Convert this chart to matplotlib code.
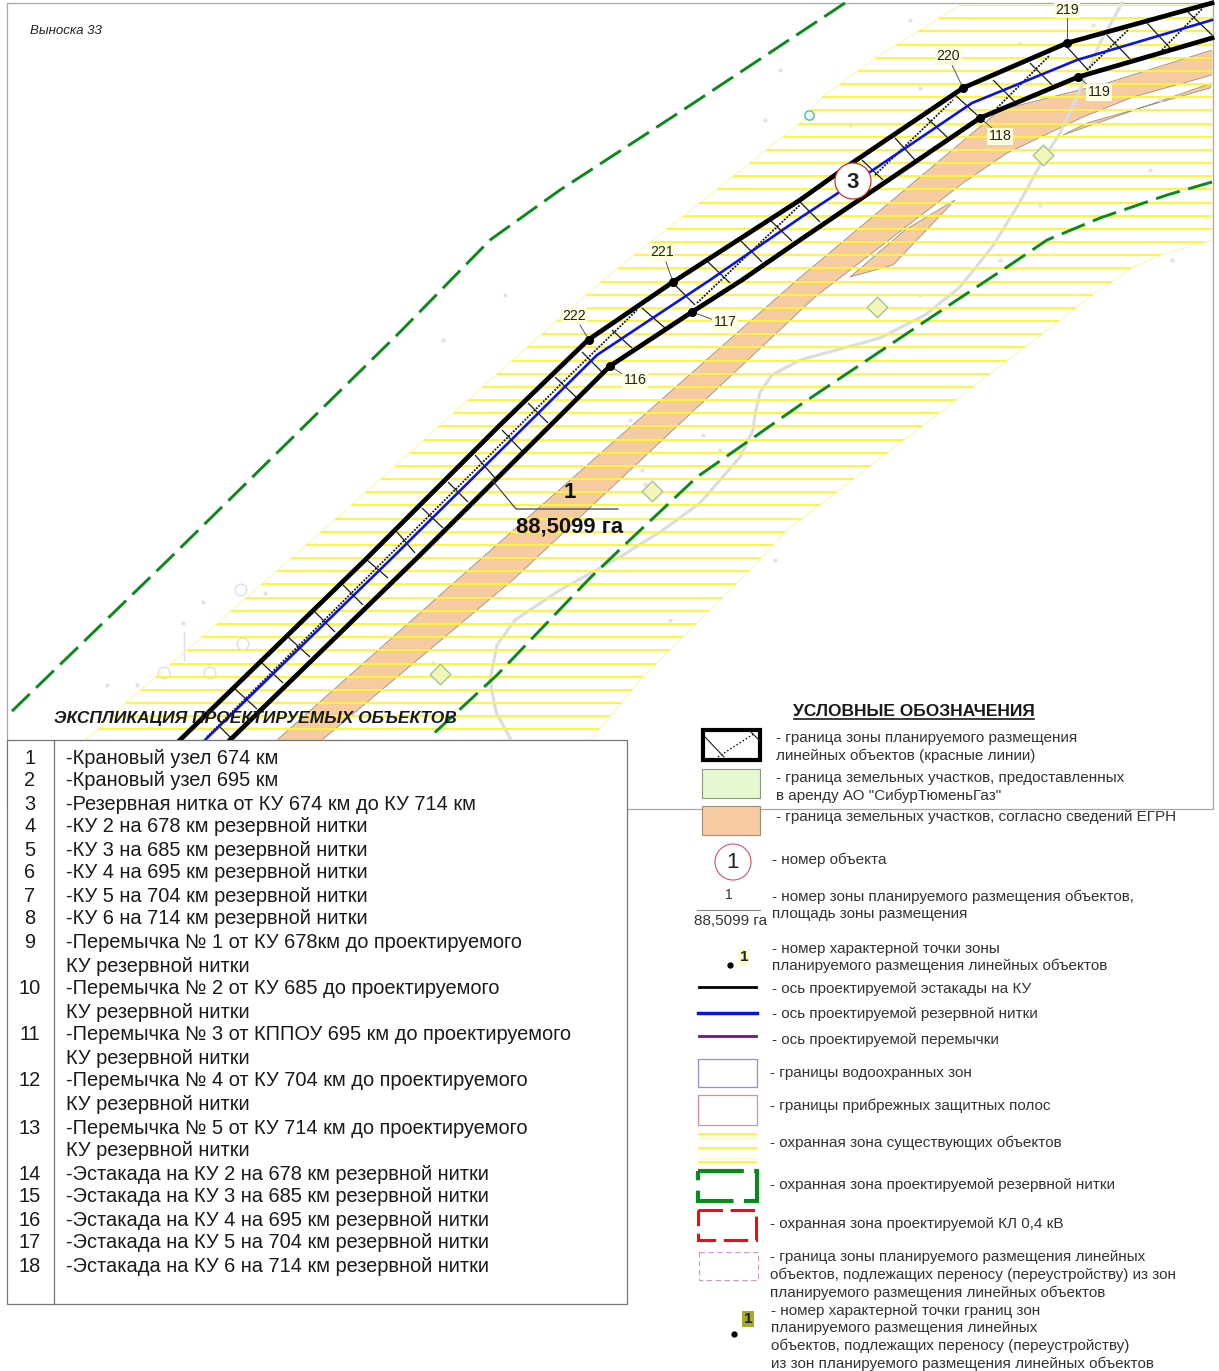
'''
Карта: зона планируемого размещения линейных объектов, выноска 33
Координаты считаны с рисунка, в пикселях
'''
import numpy as np
import matplotlib
matplotlib.use('Agg')
import matplotlib.pyplot as plt
from matplotlib.patches import Polygon, Rectangle, Circle
from matplotlib.collections import LineCollection

plt.rcParams['font.family'] = ['Liberation Sans', 'DejaVu Sans']

# --- карта ---
upper_border = [(180, 740), (365, 560), (400, 525), (500, 425), (588, 340), (673, 282), (800, 200),
                (852, 163), (963, 88), (1067, 43), (1212, 3)]
lower_border = [(230, 740), (415, 560), (610, 366), (692, 312), (742, 280), (800, 240), (980, 118),
                (1078, 77), (1212, 38)]
blue_axis = [(205, 740), (390, 560), (597, 355), (710, 280), (800, 218), (873, 170), (972, 103),
             (1077, 60), (1212, 20)]
dotted_parts = [[(207, 737), (480, 465), (560, 385), (637, 310)],
                [(697, 303), (800, 205)],
                [(875, 175), (953, 100)],
                [(997, 108), (1050, 55)],
                [(1087, 70), (1128, 30)],
                [(1162, 50), (1203, 8)]]
cross_ticks = [[(220, 727), (231, 738)], [(235, 689), (257, 709)], [(262, 663), (283, 683)],
               [(288, 637), (310, 657)], [(315, 612), (335, 632)], [(343, 585), (363, 605)],
               [(367, 560), (388, 578)], [(397, 532), (415, 553)], [(422, 508), (443, 528)],
               [(448, 482), (468, 502)], [(475, 455), (495, 478)], [(502, 430), (522, 451)],
               [(528, 403), (548, 423)], [(555, 377), (576, 397)], [(582, 352), (602, 372)],
               [(612, 330), (632, 348)], [(642, 308), (665, 328)], [(673, 283), (695, 305)],
               [(708, 262), (730, 283)], [(740, 240), (762, 262)], [(770, 220), (792, 241)],
               [(800, 202), (820, 222)], [(862, 160), (883, 180)], [(895, 138), (915, 160)],
               [(927, 118), (947, 137)], [(955, 95), (977, 115)], [(993, 80), (1015, 102)],
               [(1030, 63), (1052, 85)], [(1067, 47), (1088, 70)], [(1107, 35), (1130, 59)],
               [(1147, 23), (1170, 48)], [(1188, 12), (1212, 35)]]
hatch_zone = [(85, 740), (100, 728), (128, 701), (143, 688), (203, 636), (233, 609), (278, 570), (412, 451),
              (440, 425), (543, 333), (603, 280), (800, 123), (823, 96), (877, 57), (960, 5), (1212, 5),
              (1212, 240), (1163, 254), (1133, 267), (1115, 280), (1095, 293), (787, 530), (750, 570),
              (640, 680), (590, 740)]
orange_band = [(277, 740), (457, 580), (797, 280), (1000, 110), (1107, 83), (1212, 50), (1212, 75),
               (1133, 97), (1083, 117), (1007, 153), (963, 183), (815, 297), (515, 578), (322, 740)]
orange_sliver_1 = [(850, 277), (893, 265), (955, 200), (905, 230)]
orange_sliver_2 = [(1063, 135), (1212, 83), (1210, 88), (1133, 110), (1087, 123)]
green_upper = [(845, 3), (680, 112), (560, 190), (490, 240), (400, 332), (168, 560), (8, 715)]
green_lower = [(1212, 182), (1167, 195), (1100, 218), (1047, 240), (1013, 263), (957, 300), (800, 405),
               (750, 440), (697, 477), (633, 537), (590, 578), (497, 675), (430, 737)]
road = [(1122, 3), (1100, 43), (1077, 97), (1060, 133), (1043, 160), (1017, 207), (992, 247), (960, 287),
        (925, 315), (880, 338), (800, 360), (772, 375), (760, 392), (755, 415), (753, 430), (740, 457),
        (700, 503), (663, 530), (620, 557), (560, 590), (515, 620), (497, 645), (490, 680), (496, 712),
        (510, 738)]
diamonds = [(877, 307), (652, 491), (440, 674), (1043, 155)]
pale_rings = [(241, 590), (243, 644), (210, 673), (164, 673)]
pale_dots = [(265, 593), (203, 602), (183, 623), (137, 685), (107, 685), (433, 663), (645, 484), (910, 20),
             (1093, 25), (1020, 44), (920, 88), (1160, 100), (955, 150), (1150, 170), (1040, 205),
             (1000, 260), (1172, 260), (920, 295), (765, 120), (780, 70), (850, 125), (642, 470), (703, 435),
             (560, 380), (505, 295), (443, 340), (630, 420), (720, 450), (670, 620), (775, 560)]
point_no = ['222', '221', '220', '219', '116', '117', '118', '119']
point_xy = [(574, 315), (662, 252), (948, 56), (1067, 9), (635, 380), (725, 322), (1000, 136), (1099, 92)]
point_at = [(589, 340), (673, 282), (963, 88), (1067, 43), (610, 366), (692, 312), (980, 118), (1078, 77)]
leader_to = [(580, 325), (666, 262), (952, 65), (1067, 15), (624, 375), (714, 320), (992, 128), (1088, 85)]

# --- экспликация ---
expl_no = ['1', '2', '3', '4', '5', '6', '7', '8', '9', '', '10', '', '11', '', '12', '', '13', '',
           '14', '15', '16', '17', '18']
expl_text = ['-Крановый узел 674 км', '-Крановый узел 695 км', '-Резервная нитка от КУ 674 км до КУ 714 км',
             '-КУ 2 на 678 км резервной нитки', '-КУ 3 на 685 км резервной нитки',
             '-КУ 4 на 695 км резервной нитки', '-КУ 5 на 704 км резервной нитки',
             '-КУ 6 на 714 км резервной нитки', '-Перемычка № 1 от КУ 678км до проектируемого',
             'КУ резервной нитки', '-Перемычка № 2 от КУ 685 до проектируемого', 'КУ резервной нитки',
             '-Перемычка № 3 от КППОУ 695 км до проектируемого', 'КУ резервной нитки',
             '-Перемычка № 4 от КУ 704 км до проектируемого', 'КУ резервной нитки',
             '-Перемычка № 5 от КУ 714 км до проектируемого', 'КУ резервной нитки',
             '-Эстакада на КУ 2 на 678 км резервной нитки', '-Эстакада на КУ 3 на 685 км резервной нитки',
             '-Эстакада на КУ 4 на 695 км резервной нитки', '-Эстакада на КУ 5 на 704 км резервной нитки',
             '-Эстакада на КУ 6 на 714 км резервной нитки']
expl_y = [757, 780, 803, 826, 849, 872, 895, 918, 942, 965, 988, 1011, 1034, 1057, 1080, 1103, 1127, 1150,
          1173, 1196, 1219, 1242, 1265]

# --- условные обозначения ---
legend_lines = [(776, 737, '- граница зоны планируемого размещения'),
                (776, 755, 'линейных объектов (красные линии)'),
                (776, 777, '- граница земельных участков, предоставленных'),
                (776, 795, 'в аренду АО "СибурТюменьГаз"'),
                (776, 816, '- граница земельных участков, согласно сведений ЕГРН'),
                (772, 859, '- номер объекта'),
                (772, 896, '- номер зоны планируемого размещения объектов,'),
                (772, 913, 'площадь зоны размещения'),
                (772, 948, '- номер характерной точки зоны'),
                (772, 965, 'планируемого размещения линейных объектов'),
                (772, 988, '- ось проектируемой эстакады на КУ'),
                (772, 1013, '- ось проектируемой резервной нитки'),
                (772, 1039, '- ось проектируемой перемычки'),
                (770, 1072, '- границы водоохранных зон'),
                (770, 1105, '- границы прибрежных защитных полос'),
                (770, 1142, '- охранная зона существующих объектов'),
                (770, 1184, '- охранная зона проектируемой резервной нитки'),
                (770, 1223, '- охранная зона проектируемой КЛ 0,4 кВ'),
                (770, 1256, '- граница зоны планируемого размещения линейных'),
                (770, 1274, 'объектов, подлежащих переносу (переустройству) из зон'),
                (770, 1292, 'планируемого размещения линейных объектов'),
                (771, 1310, '- номер характерной точки границ зон'),
                (771, 1327, 'планируемого размещения линейных'),
                (771, 1345, 'объектов, подлежащих переносу (переустройству)'),
                (771, 1363, 'из зон планируемого размещения линейных объектов')]

fig = plt.figure(figsize=(12.19, 13.71), dpi=100)
ax = fig.add_axes([0, 0, 1, 1])
ax.set_xlim(0, 1219)
ax.set_ylim(1371, 0)
ax.axis('off')


def polyline(points, **kw):
    pts = np.array(points)
    return ax.plot(pts[:, 0], pts[:, 1], **kw)


# рамка карты
ax.add_patch(Rectangle((7, 3), 1206, 806, fc='white', ec='#a8a8a8', lw=0.9, zorder=1))

# охранная зона (штриховка)
zone = Polygon(hatch_zone, closed=True, fc='none', ec='#f8f8b0', lw=0.7, zorder=3)
ax.add_patch(zone)
for poly in (orange_band, orange_sliver_1, orange_sliver_2):
    ax.add_patch(Polygon(poly, closed=True, fc='#f6cba2', ec='#9c8f80', lw=0.6, zorder=2))
hatch_y = np.arange(5.0, 740, 13.17)
hl = ax.hlines(hatch_y, 7, 1213, color='#fdf53a', lw=1.4, zorder=3)
hl.set_clip_path(zone)

# подложка: дорога, кольца, точки
polyline(road, color='#dcdcdc', lw=2.2, zorder=2.5, solid_joinstyle='round')
ax.scatter(*zip(*pale_dots), s=9, color='#e2e2e2', zorder=2.5, linewidths=0)
ax.scatter(*zip(*pale_rings), s=70, facecolors='none', edgecolors='#dcdcdc', lw=0.9, zorder=2.5)
ax.plot([184, 184], [632, 660], color='#dddddd', lw=1, zorder=2.5)
ax.scatter(*zip(*diamonds), s=110, marker='D', facecolors='#f2f6b8', edgecolors='#9cc08a', lw=0.9, zorder=3.5)
ax.scatter([809], [115], s=45, facecolors='#eef8f0', edgecolors='#58b8a0', lw=1, zorder=3.5)

# охранная зона резервной нитки
for line in (green_upper, green_lower):
    polyline(line, color='#0b8a1c', lw=2.1, ls=(0, (8.5, 3)), zorder=4)

# коридор
ax.add_collection(LineCollection(cross_ticks, colors='#1a1a1a', linewidths=0.9, zorder=4))
for part in dotted_parts:
    polyline(part, color='#111111', lw=1.3, ls=(0, (1, 0.8)), zorder=4.2)
polyline(blue_axis, color='#0a14e0', lw=1.9, zorder=4.5)
polyline(upper_border, color='black', lw=3.4, zorder=5, solid_joinstyle='round')
polyline(lower_border, color='black', lw=3.4, zorder=5, solid_joinstyle='round')

# характерные точки
for no, xy, at, lead in zip(point_no, point_xy, point_at, leader_to):
    ax.plot([at[0], lead[0]], [at[1], lead[1]], color='#555555', lw=0.7, zorder=5)
    ax.plot(at[0], at[1], 'o', color='black', ms=5.5, zorder=6)
    ax.text(xy[0], xy[1] + 0.5, no, ha='center', va='center', fontsize=10.2, color='#222222', zorder=6,
            bbox=dict(fc='#fdfde0', ec='none', pad=0.8))

# номер объекта
ax.add_patch(Circle((853, 181), 18, fc='white', ec='#d03030', lw=0.9, zorder=7))
ax.text(853, 182, '3', ha='center', va='center', fontsize=16, fontweight='bold', color='#222222', zorder=8)

# выноска зоны
ax.plot([492, 516, 618], [480, 509, 509], color='#444444', lw=0.9, zorder=6)
ax.text(570, 492, '1', ha='center', va='center', fontsize=16, fontweight='bold', color='#111111', zorder=6)
ax.text(570, 527, '88,5099 га', ha='center', va='center', fontsize=15.8, fontweight='bold', color='#111111',
        zorder=6)

ax.text(30, 31, 'Выноска 33', ha='left', va='center', fontsize=9.5, style='italic', color='#222222', zorder=6)

# таблица экспликации
ax.add_patch(Rectangle((7, 740), 620, 564, fc='white', ec='#777777', lw=0.9, zorder=9))
ax.plot([54, 54], [740, 1304], color='#777777', lw=0.9, zorder=10)
ax.text(54, 719, 'ЭКСПЛИКАЦИЯ ПРОЕКТИРУЕМЫХ ОБЪЕКТОВ', ha='left', va='center', fontsize=12.5,
        fontweight='bold', style='italic', color='#1a1a1a', zorder=10)
for no, txt, y in zip(expl_no, expl_text, expl_y):
    ax.text(30, y + 1, no, ha='center', va='center', fontsize=14.4, color='#1a1a1a', zorder=10)
    ax.text(66, y + 1, txt, ha='left', va='center', fontsize=14.4, color='#1a1a1a', zorder=10)

# условные обозначения
ax.text(914, 711, 'УСЛОВНЫЕ ОБОЗНАЧЕНИЯ', ha='center', va='center', fontsize=12.5, fontweight='bold',
        color='#1a1a1a', zorder=10)
ax.plot([794, 1034], [719, 719], color='#1a1a1a', lw=1.2, zorder=10)
for x, y, txt in legend_lines:
    ax.text(x, y + 1, txt, ha='left', va='center', fontsize=11, color='#333333', zorder=10)

ax.add_patch(Rectangle((703, 730), 57, 30, fc='white', ec='black', lw=3, zorder=10))
ax.plot([718, 755], [757, 733], color='black', lw=1, ls=':', zorder=10)
ax.plot([705, 724], [737, 757], color='#222222', lw=0.8, zorder=10)
ax.plot([750, 760], [731, 741], color='#222222', lw=0.8, zorder=10)
ax.add_patch(Rectangle((702, 769), 58, 29, fc='#e6f8d2', ec='#8a9a80', lw=0.8, zorder=10))
ax.add_patch(Rectangle((702, 806), 58, 29, fc='#f6cba2', ec='#a09080', lw=0.8, zorder=10))
ax.add_patch(Circle((733, 862), 18, fc='white', ec='#d85060', lw=0.8, zorder=10))
ax.text(733, 863, '1', ha='center', va='center', fontsize=16, color='#222222', zorder=11)
ax.text(729, 895, '1', ha='center', va='center', fontsize=10, color='#333333', zorder=10)
ax.plot([697, 760], [910, 910], color='#888888', lw=0.8, zorder=10)
ax.text(731, 921, '88,5099 га', ha='center', va='center', fontsize=11, color='#333333', zorder=10)
ax.plot(730, 965, 'o', color='black', ms=3.5, zorder=10)
ax.text(744, 957, '1', ha='center', va='center', fontsize=11, fontweight='bold', color='#222222', zorder=10,
        bbox=dict(fc='#fdfdd0', ec='none', pad=1))
ax.plot([699, 756], [987, 987], color='black', lw=2, zorder=10)
ax.plot([698, 757], [1013, 1013], color='#0a14d8', lw=2.5, zorder=10)
ax.plot([699, 756], [1036, 1036], color='#7a1088', lw=2, zorder=10)
ax.add_patch(Rectangle((698, 1059), 59, 28, fc='white', ec='#8f8fe8', lw=0.9, zorder=10))
ax.add_patch(Rectangle((698, 1095), 59, 30, fc='white', ec='#e88a96', lw=0.9, zorder=10))
ax.hlines([1134, 1148, 1162], 698, 757, color='#fdf53a', lw=1.4, zorder=10)
ax.hlines([1138, 1158], 698, 757, color='#fdfbb0', lw=0.8, zorder=10)
ax.add_patch(Rectangle((698, 1171), 59, 30, fc='none', ec='#0b8a1c', lw=3, ls=(0, (11, 2.5)), zorder=10))
ax.add_patch(Rectangle((698, 1210), 58, 30, fc='none', ec='#e81010', lw=2.2, ls=(0, (8, 2.5)), zorder=10))
ax.add_patch(Rectangle((699, 1252), 59, 28, fc='none', ec='#cc99cc', lw=0.8, ls=(0, (5, 3)), zorder=10))
ax.plot(734, 1334, 'o', color='black', ms=3.5, zorder=10)
ax.text(748, 1319, '1', ha='center', va='center', fontsize=11, fontweight='bold', color='#222222', zorder=10,
        bbox=dict(fc='#a8a828', ec='none', pad=1))

fig.savefig('out.png', dpi=100)
